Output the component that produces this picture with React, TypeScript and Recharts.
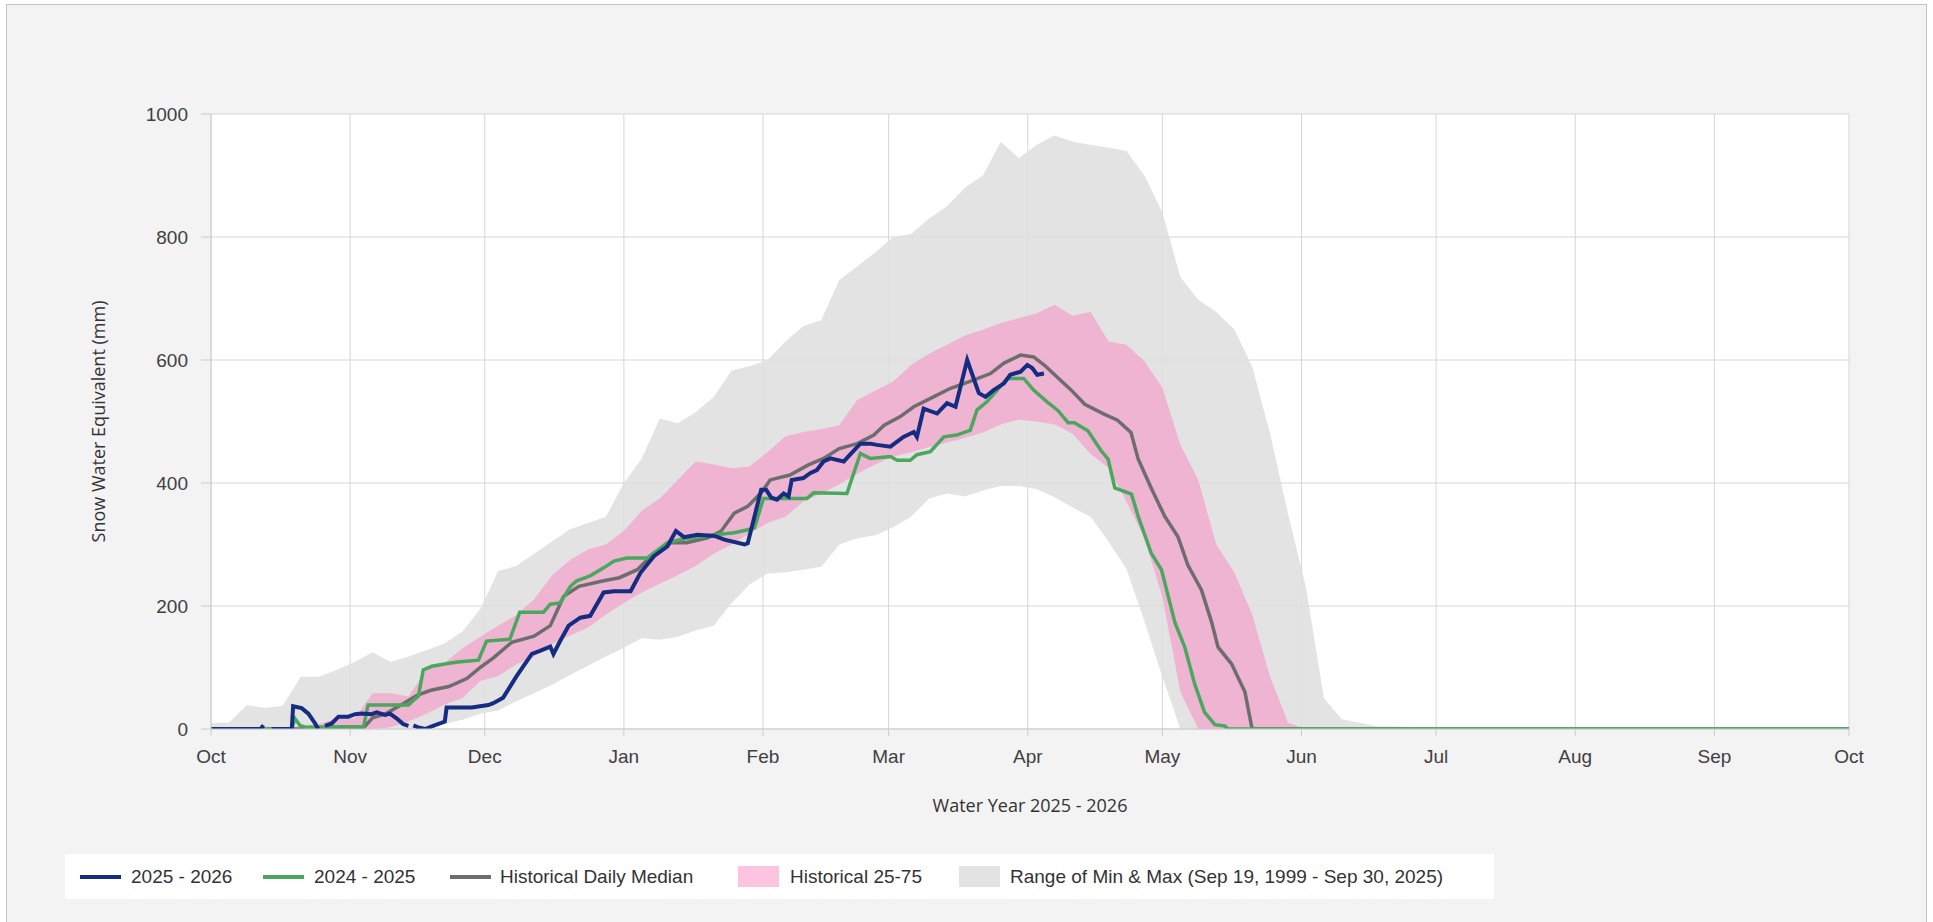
import { ComposedChart, Area, Line, XAxis, YAxis, CartesianGrid } from "recharts";

const monthTicks = [0, 31, 61, 92, 123, 151, 182, 212, 243, 273, 304, 335, 365];
const monthLabels = ["Oct", "Nov", "Dec", "Jan", "Feb", "Mar", "Apr", "May", "Jun", "Jul", "Aug", "Sep", "Oct"];
const sweTicks = [0, 200, 400, 600, 800, 1000];

// days since Oct 1, sampled every 4 days for the historical bands
const bandDays = [
  0, 4, 8, 12, 16, 20, 24, 28, 32, 36, 40, 44, 48, 52, 56, 60, 64, 68, 72, 76,
  80, 84, 88, 92, 96, 100, 104, 108, 112, 116, 120, 124, 128, 132, 136, 140, 144, 148, 152, 156,
  160, 164, 168, 172, 176, 180, 184, 188, 192, 196, 200, 204, 208, 212, 216, 220, 224, 228, 232, 236,
  240, 244, 248, 252, 256, 260, 264, 268, 272, 365,
];
const maxSwe = [
  10, 10, 39, 34, 38, 85, 85, 96, 109, 125, 109, 118, 128, 139, 158, 195, 257, 265, 285, 305,
  325, 335, 345, 400, 440, 505, 497, 515, 540, 583, 590, 600, 630, 655, 665, 730, 752, 775, 800, 805,
  830, 850, 880, 900, 955, 928, 950, 965, 955, 950, 945, 940, 900, 840, 735, 698, 678, 650, 590, 480,
  350, 230, 50, 16, 10, 4, 4, 2, 0, 0,
];
const p75Swe = [
  0, 0, 0, 0, 0, 5, 8, 17, 17, 58, 58, 53, 96, 107, 131, 150, 168, 185, 211, 250,
  275, 292, 300, 322, 355, 375, 405, 435, 430, 424, 427, 450, 476, 483, 488, 494, 535, 550, 565, 592,
  610, 625, 640, 649, 660, 668, 676, 690, 672, 678, 630, 625, 598, 555, 462, 405, 300, 255, 186, 85,
  10, 0, 0, 0, 0, 0, 0, 0, 0, 0,
];
const p25Swe = [
  0, 0, 0, 0, 0, 0, 0, 0, 0, 0, 3, 12, 25, 40, 50, 78, 86, 105, 118, 138,
  152, 165, 186, 205, 222, 236, 250, 265, 285, 300, 318, 335, 345, 370, 383, 398, 415, 430, 443, 450,
  458, 466, 473, 482, 495, 503, 500, 495, 480, 447, 425, 370, 310, 215, 60, 0, 0, 0, 0, 0,
  0, 0, 0, 0, 0, 0, 0, 0, 0, 0,
];
const minSwe = [
  0, 0, 0, 0, 0, 0, 0, 0, 0, 0, 0, 0, 0, 8, 15, 25, 30, 45, 58, 72,
  88, 103, 118, 132, 148, 145, 150, 160, 168, 205, 235, 253, 255, 259, 264, 300, 310, 315, 328, 345,
  375, 383, 378, 388, 395, 395, 390, 377, 360, 345, 305, 260, 175, 85, 0, 0, 0, 0, 0, 0,
  0, 0, 0, 0, 0, 0, 0, 0, 0, 0,
];

const medianDays = [
  0, 20, 22, 34, 36, 39, 43, 46, 49, 53, 57, 60, 63, 67, 72, 75.6, 78.6, 82, 87.5, 91,
  95, 98.7, 102.5, 106, 110.7, 113.7, 116.6, 119.6, 122.6, 124.6, 129, 133, 136.5, 140, 144, 147.7, 150, 153.6, 156.6, 161,
  164.8, 169, 173.7, 176.7, 180.4, 183.3, 185.8, 188.7, 191.7, 194.7, 199, 202, 205, 206.6, 209.5, 212.5, 215.5, 217.7, 220.7, 223,
  224.4, 227.4, 230.4, 232, 365,
];
const medianSwe = [
  0, 0, 2, 2, 18, 25, 42, 55, 63, 69, 82, 100, 116, 141, 151, 168, 216, 232, 241, 246,
  259, 286, 303, 303, 311, 322, 351, 362, 384, 405, 413, 429, 440, 456, 464, 478, 494, 508, 524, 540,
  554, 565, 578, 595, 608, 605, 591, 571, 551, 528, 512, 502, 482, 439, 392, 346, 312, 266, 226, 173,
  133, 106, 60, 0, 0,
];

const lastYearDays = [
  0, 18, 18.7, 19.8, 21, 34, 35, 44, 44.7, 46.2, 47.3, 49.2, 53, 55, 59.6, 61.4, 66.6, 68.8, 74.1, 75.6,
  77.8, 80.1, 81.5, 84.5, 87.5, 89.8, 92.7, 97.2, 101.7, 104.7, 112.2, 116.6, 119.6, 121.1, 123.1, 132.8, 134.3, 141.7, 144.7, 146.9,
  151.4, 152.9, 155.8, 157.3, 160.3, 163.3, 166.2, 169.2, 170.7, 172.9, 175.2, 177.4, 181.1, 183.3, 186.3, 188.7, 191, 192.4, 195.4, 198.4,
  199.9, 201.4, 205.1, 206.6, 209.5, 211.8, 214.8, 217, 219.2, 221.4, 223.7, 225.9, 226.6, 365,
];
const lastYearSwe = [
  0, 0, 17, 6, 3, 4, 39, 39, 44, 53, 96, 102, 107, 109, 112, 143, 146, 190, 190, 203,
  205, 232, 241, 249, 262, 273, 278, 278, 303, 308, 316, 319, 324, 327, 375, 375, 384, 383, 448, 440,
  443, 437, 437, 446, 451, 475, 478, 486, 519, 532, 551, 570, 570, 551, 532, 518, 498, 498, 485, 452,
  439, 392, 382, 346, 286, 259, 173, 133, 73, 27, 7, 5, 0, 0,
];

// null = missing reading (line breaks)
const thisYearDays = [
  0, 11, 11.7, 12.5, 13.5, 18, 18.3, 20.2, 21.7, 23.2, 23.9, 24.6, 25.4, 26.9, 28.4, 30.6, 32.1, 33.6, 35.8, 36.9,
  38.8, 39.9, 41.4, 42.8, 44, 44.5, 45.1, 46, 47.7, 49.5, 52.1, 52.5, 55.1, 58.1, 61.8, 62.9, 65.1, 68.1, 71.5, 73.3,
  75.6, 76.3, 77.8, 79.7, 82.3, 84.5, 87.5, 89.8, 93.5, 95.7, 98.7, 101.7, 103.6, 105.4, 108.4, 112.2, 114.4, 118.9, 119.6, 122.6,
  123.7, 124.9, 126.1, 127.6, 128.7, 129.4, 132, 133.5, 135, 136.5, 138, 141, 142.4, 144.7, 146.9, 148.4, 151.4, 154.3, 156.6, 157.3,
  158.8, 161.8, 164, 165.9, 168.5, 171.1, 172.6, 174.4, 176.7, 178.1, 180.4, 181.9, 183, 184.1, 185.6,
];
const thisYearSwe = [
  0, 0, 6, null, 0, 0, 37, 34, 25, 9, 0, null, 5, 9, 20, 20, 24, 25, 24, 27,
  23, 25, 17, 8, 5, null, 6, 3, 0, 5, 12, 35, 35, 35, 39, 42, 51, 86, 122, 127,
  134, 122, 143, 168, 181, 184, 222, 224, 224, 254, 281, 297, 322, 312, 316, 314, 308, 300, 302, 389,
  389, 376, 373, 383, 378, 405, 408, 416, 421, 435, 440, 435, 446, 464, 464, 462, 459, 475, 483, 475,
  521, 513, 530, 524, 600, 546, 540, 551, 562, 576, 581, 592, 587, 576, 578,
];

const bandData = bandDays.map((day, i) => ({
  day,
  range: [minSwe[i], maxSwe[i]],
  iqr: [p25Swe[i], p75Swe[i]],
}));
const toSeries = (days: number[], vals: (number | null)[]) => days.map((day, i) => ({ day, swe: vals[i] }));
const medianData = toSeries(medianDays, medianSwe);
const lastYearData = toSeries(lastYearDays, lastYearSwe);
const thisYearData = toSeries(thisYearDays, thisYearSwe);

const tickFont = "'Liberation Sans', Arial, sans-serif";
const titleFont = "'Open Sans', sans-serif";
const gridColor = "#d6d6d6";

const legendItems = [
  { label: "2025 - 2026", color: "#142d80", kind: "line", x: 15, tx: 66 },
  { label: "2024 - 2025", color: "#4aa85e", kind: "line", x: 198, tx: 249 },
  { label: "Historical Daily Median", color: "#6d6d6d", kind: "line", x: 385, tx: 435 },
  { label: "Historical 25-75", color: "#fcc4e0", kind: "box", x: 673, tx: 725 },
  { label: "Range of Min & Max (Sep 19, 1999 - Sep 30, 2025)", color: "#e3e3e3", kind: "box", x: 894, tx: 945 },
];

const App = () => {
  return (
    <div style={{ position: "absolute", left: 0, top: 0, width: 1933, height: 922, background: "#fff", overflow: "hidden" }}>
      <div
        style={{
          position: "absolute",
          left: 6,
          top: 4,
          width: 1921,
          height: 940,
          background: "#f3f3f3",
          border: "1px solid #c4c4c4",
          boxSizing: "border-box",
        }}
      />
      <div style={{ position: "absolute", left: 0, top: 0 }}>
        <ComposedChart width={1933} height={922} data={bandData} margin={{ top: 114, right: 84, bottom: 103, left: 91 }}>
          <CartesianGrid stroke={gridColor} fill="#fff" />
          <XAxis
            dataKey="day"
            type="number"
            domain={[0, 365]}
            ticks={monthTicks}
            interval={0}
            allowDataOverflow
            tickFormatter={(d: number) => monthLabels[monthTicks.indexOf(d)]}
            tick={{ fill: "#404040", fontSize: 19, fontFamily: tickFont }}
            tickSize={7}
            tickMargin={14}
            axisLine={{ stroke: "#cccccc" }}
            tickLine={{ stroke: "#cccccc" }}
            height={90}
            label={{
              value: "Water Year 2025 - 2026",
              position: "insideBottom",
              offset: 7,
              fill: "#333",
              fontSize: 18,
              fontFamily: titleFont,
            }}
          />
          <YAxis
            type="number"
            domain={[0, 1000]}
            ticks={sweTicks}
            interval={0}
            allowDataOverflow
            width={120}
            tick={{ fill: "#404040", fontSize: 19, fontFamily: tickFont }}
            tickSize={10}
            tickMargin={13}
            axisLine={{ stroke: "#cccccc" }}
            tickLine={{ stroke: "#cccccc" }}
            label={{
              value: "Snow Water Equivalent (mm)",
              angle: -90,
              position: "insideLeft",
              offset: 8,
              fill: "#333",
              fontSize: 18,
              fontFamily: titleFont,
              style: { textAnchor: "middle" },
            }}
          />
          <Area
            dataKey="range"
            type="linear"
            stroke="none"
            fill="#dedede"
            fillOpacity={0.85}
            isAnimationActive={false}
            activeDot={false}
          />
          <Area
            dataKey="iqr"
            type="linear"
            stroke="none"
            fill="#f0abcf"
            fillOpacity={0.85}
            isAnimationActive={false}
            activeDot={false}
          />
          <Line
            data={medianData}
            dataKey="swe"
            stroke="#6d6d6d"
            strokeWidth={3.5}
            dot={false}
            activeDot={false}
            isAnimationActive={false}
          />
          <Line
            data={lastYearData}
            dataKey="swe"
            stroke="#4aa85e"
            strokeWidth={3.5}
            dot={false}
            activeDot={false}
            isAnimationActive={false}
          />
          <Line
            data={thisYearData}
            dataKey="swe"
            stroke="#142d80"
            strokeWidth={4}
            dot={false}
            activeDot={false}
            isAnimationActive={false}
          />
        </ComposedChart>
      </div>
      <div
        style={{
          position: "absolute",
          left: 65,
          top: 854,
          width: 1429,
          height: 45,
          background: "#fff",
          fontFamily: tickFont,
          fontSize: 19,
          color: "#333",
        }}
      >
        {legendItems.map((item) =>
          <div key={item.label}>
            {item.kind === "line" ? (
              <div style={{ position: "absolute", left: item.x, top: 21, width: 41, height: 4, background: item.color }} />
            ) : (
              <div style={{ position: "absolute", left: item.x, top: 12, width: 41, height: 21, background: item.color }} />
            )}
            <div style={{ position: "absolute", left: item.tx, top: 0, height: 45, lineHeight: "45px", whiteSpace: "nowrap" }}>
              {item.label}
            </div>
          </div>
        )}
      </div>
    </div>
  );
};

export default App;
